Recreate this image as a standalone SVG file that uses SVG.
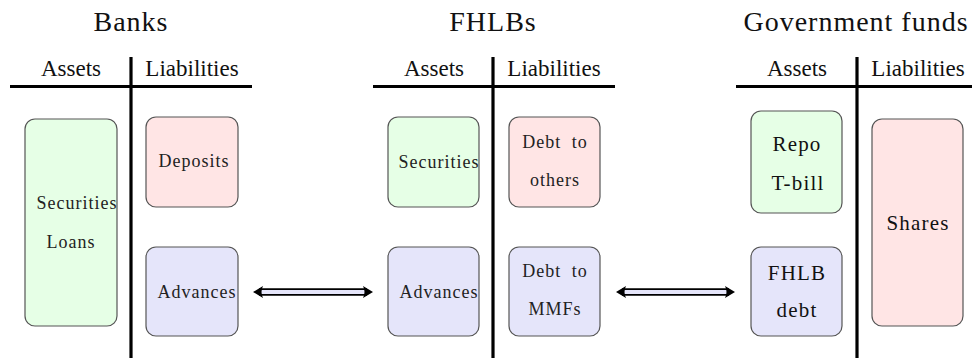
<svg xmlns="http://www.w3.org/2000/svg" width="972" height="358" viewBox="0 0 972 358">
<style>
.title{font-family:"Liberation Serif","DejaVu Serif",serif;font-size:28px;letter-spacing:1px;fill:#111;text-anchor:middle}
.head{font-family:"Liberation Serif","DejaVu Serif",serif;font-size:23px;fill:#111;text-anchor:middle}
.sm{font-family:"Liberation Serif","DejaVu Serif",serif;font-size:18px;letter-spacing:1px;fill:#222;text-anchor:middle}
.lg{font-family:"Liberation Serif","DejaVu Serif",serif;font-size:21px;letter-spacing:1.2px;fill:#111;text-anchor:middle}
.rule{stroke:#000;stroke-width:3.2;fill:none}
.box{stroke:#555;stroke-width:1.2}
.g{fill:#e6ffe6}
.r{fill:#ffe5e5}
.b{fill:#e5e5fa}
.shaft{stroke:#000;stroke-width:7.5;fill:none}
.shaftin{stroke:#e5e5fa;stroke-width:4;fill:none}
.tip{fill:#000}
</style>

<g id="banks-account">
<text class="title" x="131" y="31">Banks</text>
<text class="head" x="71" y="76">Assets</text>
<text class="head" x="192" y="76">Liabilities</text>
<line class="rule" x1="10" y1="86.5" x2="252" y2="86.5"/>
<line class="rule" x1="131" y1="57" x2="131" y2="358"/>
</g>
<g id="banks-securities-loans">
<rect class="box g" x="25" y="119" width="92" height="207" rx="10"/>
<text class="sm" x="77" y="209">Securities</text>
<text class="sm" x="71" y="248">Loans</text>
</g>
<g id="banks-deposits">
<rect class="box r" x="146" y="117" width="92" height="90" rx="10"/>
<text class="sm" x="194" y="167">Deposits</text>
</g>
<g id="banks-advances">
<rect class="box b" x="146" y="247" width="92" height="89" rx="10"/>
<text class="sm" x="197" y="298">Advances</text>
</g>

<g id="fhlb-account">
<text class="title" x="493" y="31">FHLBs</text>
<text class="head" x="434" y="76">Assets</text>
<text class="head" x="554" y="76">Liabilities</text>
<line class="rule" x1="373" y1="86.5" x2="615" y2="86.5"/>
<line class="rule" x1="493" y1="57" x2="493" y2="358"/>
</g>
<g id="fhlb-securities">
<rect class="box g" x="388" y="117" width="91" height="90" rx="10"/>
<text class="sm" x="439" y="168">Securities</text>
</g>
<g id="fhlb-debt-others">
<rect class="box r" x="509" y="117" width="91" height="90" rx="10"/>
<text class="sm" x="555" y="147.5" word-spacing="5">Debt to</text>
<text class="sm" x="555" y="186">others</text>
</g>
<g id="fhlb-advances">
<rect class="box b" x="388" y="247" width="91" height="89" rx="10"/>
<text class="sm" x="439" y="298">Advances</text>
</g>
<g id="fhlb-debt-mmfs">
<rect class="box b" x="509" y="247" width="91" height="89" rx="10"/>
<text class="sm" x="555" y="277" word-spacing="5">Debt to</text>
<text class="sm" x="555" y="315">MMFs</text>
</g>

<g id="gov-account">
<text class="title" x="856" y="31">Government funds</text>
<text class="head" x="797" y="76">Assets</text>
<text class="head" x="918" y="76">Liabilities</text>
<line class="rule" x1="736" y1="86.5" x2="972" y2="86.5"/>
<line class="rule" x1="857" y1="57" x2="857" y2="358"/>
</g>
<g id="gov-repo-tbill">
<rect class="box g" x="751" y="111" width="91" height="102" rx="10"/>
<text class="lg" x="797" y="151">Repo</text>
<text class="lg" x="798" y="189.5">T-bill</text>
</g>
<g id="gov-fhlb-debt">
<rect class="box b" x="751" y="247" width="91" height="89" rx="10"/>
<text class="lg" x="797" y="280">FHLB</text>
<text class="lg" x="797" y="317">debt</text>
</g>
<g id="gov-shares">
<rect class="box r" x="872" y="119" width="91" height="207" rx="10"/>
<text class="lg" x="918" y="230">Shares</text>
</g>

<g id="connectors">
<line class="shaft" x1="259" y1="292" x2="367" y2="292"/>
<line class="shaftin" x1="258" y1="292" x2="368" y2="292"/>
<path class="tip" d="M253,292 L263,286 Q260,292 263,298 Z"/>
<path class="tip" d="M373,292 L363,286 Q366,292 363,298 Z"/>
<line class="shaft" x1="622" y1="292" x2="729" y2="292"/>
<line class="shaftin" x1="621" y1="292" x2="730" y2="292"/>
<path class="tip" d="M616,292 L626,286 Q623,292 626,298 Z"/>
<path class="tip" d="M735,292 L725,286 Q728,292 725,298 Z"/>
</g>
</svg>
